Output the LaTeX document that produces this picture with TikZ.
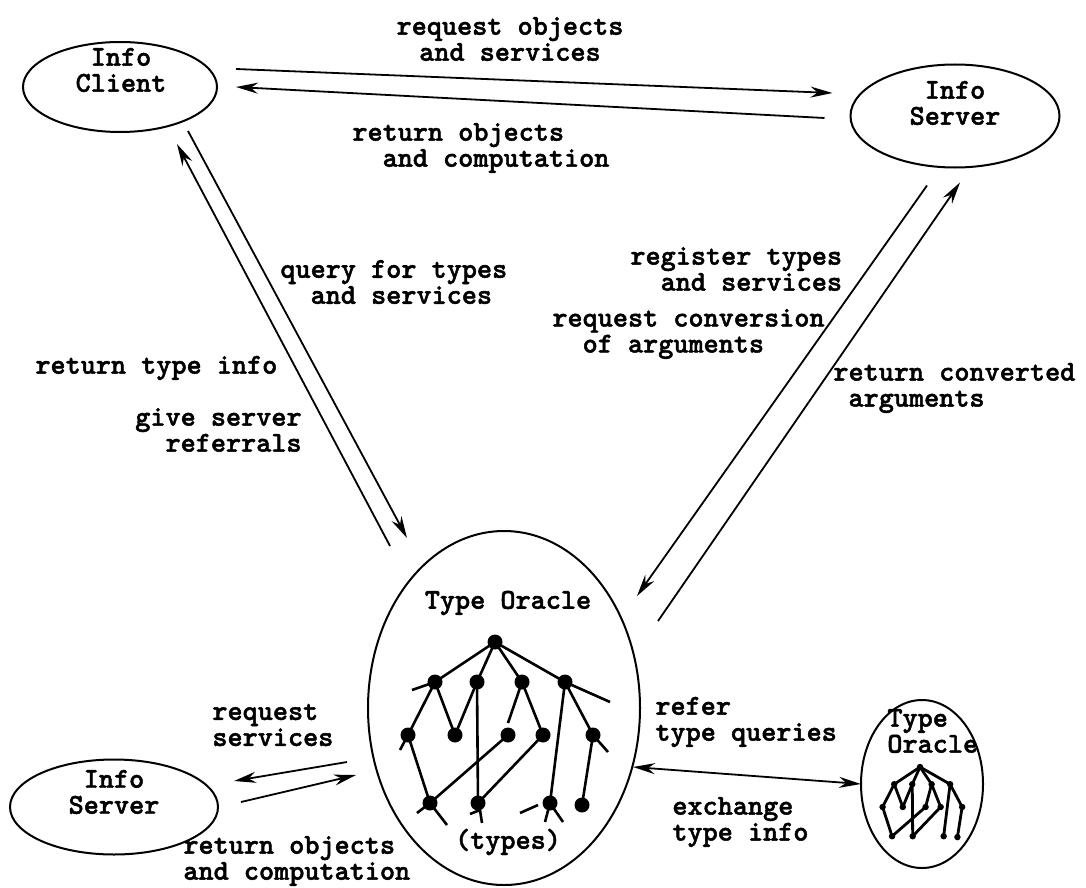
\documentclass[tikz,border=0pt]{standalone}
\usepackage{fontspec}
\usepackage{tikz}
\usetikzlibrary{arrows.meta,shapes.geometric}

\newfontfamily\typewriter{lmmonolt10-bold.otf}[FakeBold=1.6]

\tikzset{
  oval/.style={draw, ellipse, line width=1pt, inner sep=0pt},
  lbl/.style={font=\typewriter\fontsize{14.4}{13}\selectfont, inner sep=0pt},
  flow/.style={line width=0.9pt, -{Stealth[length=11pt,width=5.5pt]}},
  both/.style={line width=0.9pt, {Stealth[length=11pt,width=5.5pt]}-{Stealth[length=11pt,width=5.5pt]}},
  branch/.style={line width=1.3pt},
}

% the type hierarchy, root at (0,0)
\newcommand{\typetree}[1]{%
  \coordinate (#1r) at (0,0);
  \coordinate (#1a1) at (-60,40);  \coordinate (#1b1) at (-18,40);
  \coordinate (#1c1) at (27,40);   \coordinate (#1d1) at (70,40);
  \coordinate (#1a2) at (-87,93);  \coordinate (#1b2) at (-40,93);
  \coordinate (#1c2) at (13,93);   \coordinate (#1d2) at (48,93);
  \coordinate (#1e2) at (98,93);
  \coordinate (#1a3) at (-65,161); \coordinate (#1b3) at (-17,161);
  \coordinate (#1c3) at (55,161);  \coordinate (#1d3) at (87,163);
  \foreach \u/\v in {r/a1,r/b1,r/c1,r/d1,a1/a2,a1/b2,b1/b2,b1/b3,c1/d2,d1/c3,d1/e2,e2/d3,a2/a3,c2/a3,d2/b3}
    \draw[branch] (#1\u) -- (#1\v);
  \foreach \n in {r,a1,b1,c1,d1,a2,b2,c2,d2,e2,a3,b3,c3,d3}
    \fill (#1\n) circle (7.5);
}

\begin{document}
\begin{tikzpicture}[x=0.5pt, y=-0.5pt]
%\draw [help lines, step=50](0,0) grid (1086,888);
\useasboundingbox (0,0) rectangle (1086,888);

\node[oval, minimum width=97pt, minimum height=45pt] (client) at (120,87) {};
\node[oval, minimum width=104.5pt, minimum height=51.5pt] (server) at (955,116) {};
\node[oval, minimum width=136pt, minimum height=177pt] (oracle) at (504,708) {};
\node[oval, minimum width=104pt, minimum height=47.5pt] (server2) at (114,807) {};
\node[oval, minimum width=61pt, minimum height=84pt] (oracle2) at (922,784) {};

\node[lbl, align=center] (clienttxt) at (121,70) {Info\\Client};
\node[lbl, align=center] (servertxt) at (955,103) {Info\\Server};
\node[lbl, align=center] (server2txt) at (114,792) {Info\\Server};
\node[lbl] (oracletxt) at (508,603) {Type Oracle};
\node[lbl, align=left, anchor=west] (oracle2txt) at (887,731) {Type\\Oracle};
\node[lbl] (typestxt) at (508,842) {(types)};

% client <-> server
\draw[flow] ([shift={(18,-18)}]client.east) -- ([shift={(-17,-23)}]server.west);
\draw[flow] ([shift={(-25,2)}]server.west) -- ([shift={(18,0)}]client.east);
\node[lbl, align=center] (reqobj) at (510,39) {request objects\\and services};
\node[lbl, align=left, anchor=west] (retobj) at (352,148) {return objects\\~~and computation};

% client <-> oracle
\draw[flow] ([shift={(-114,16)}]oracle.north) -- ([shift={(57,11)}]client.south);
\draw[flow] ([shift={(68,-2)}]client.south) -- ([shift={(-97,8)}]oracle.north);
\node[lbl, align=left, anchor=west] (query) at (280,282) {query for types\\~~and services};
\node[lbl, anchor=west] (rettype) at (35,368) {return type info};
\node[lbl, align=right, anchor=east] (referral) at (302,430) {give server\\referrals};

% server <-> oracle
\draw[flow] ([shift={(-28,17)}]server.south) -- ([shift={(133,66)}]oracle.north);
\draw[flow] ([shift={(154,91)}]oracle.north) -- ([shift={(5,14)}]server.south);
\node[lbl, align=left, anchor=west] (register) at (630,269) {register types\\~~and services};
\node[lbl, align=left, anchor=west] (convert) at (552,334) {request conversion\\~~of arguments};
\node[lbl, align=left, anchor=west] (converted) at (833,388) {return converted\\~arguments};

% oracle <-> server2
\draw[flow] ([shift={(-20,54)}]oracle.west) -- ([shift={(15,-26)}]server2.east);
\draw[flow] ([shift={(22,-5)}]server2.east) -- ([shift={(-11,67)}]oracle.west);
\node[lbl, align=left, anchor=west] (reqserv) at (212,725) {request\\services};
\node[lbl, align=left, anchor=west] (retobj2) at (183,861) {return objects\\and computation};

% oracle <-> oracle2
\draw[both] ([shift={(-8,59)}]oracle.east) -- ([shift={(1,0)}]oracle2.west);
\node[lbl, align=left, anchor=west] (refer) at (655,722) {refer\\type queries};
\node[lbl, align=left, anchor=west] (exchange) at (672,822) {exchange\\type info};

% big type tree
\begin{scope}[shift={(495,642)}]
\typetree{b}
\draw[branch] (ba1) -- (-83,48);
\draw[branch] (bd1) -- (115,60);
\draw[branch] (bc1) -- (13,81);
\draw[branch] (ba2) -- (-95,108);
\draw[branch] (be2) -- (113,110);
\draw[branch] (ba3) -- (-78,171);
\draw[branch] (ba3) -- (-48,183);
\draw[branch] (-25,172) -- (-15,168) -- (-13,181);
\draw[branch] (25,171) -- (43,163);
\draw[branch] (bc3) -- (50,180);
\draw[branch] (bc3) -- (68,180);
\end{scope}

% small type tree
\begin{scope}[shift={(920,767)}, scale=0.43, branch/.append style={line width=1.4pt}]
\typetree{s}
\draw[branch] (sc1) -- (sc2);
\end{scope}
\end{tikzpicture}
\end{document}
